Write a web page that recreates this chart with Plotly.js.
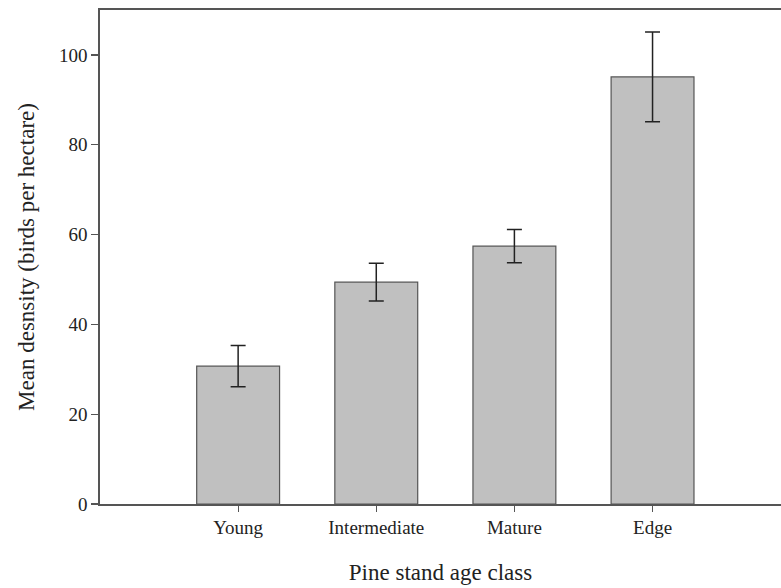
<!DOCTYPE html>
<html>
<head>
<meta charset="utf-8">
<script src="https://cdn.plot.ly/plotly-3.0.1.min.js"></script>
<style>html,body{margin:0;padding:0;background:#fff;}#chart{width:781px;height:588px;}</style>
</head>
<body>
<div id="chart"></div>
<script>
var categories = ["Young", "Intermediate", "Mature", "Edge"];
var meanDensity = [30.7, 49.4, 57.4, 95.1];
var stdError = [4.6, 4.2, 3.7, 10.0];
var yTickValues = [0, 20, 40, 60, 80, 100];

var trace = {
  type: "bar",
  x: categories,
  y: meanDensity,
  width: 0.6,
  marker: {color: "#c0c0c0", line: {color: "#555555", width: 1.2}},
  error_y: {type: "data", array: stdError, visible: true, color: "#222222", thickness: 1.5, width: 7.5},
  hoverinfo: "none"
};

var layout = {
  width: 781, height: 588,
  margin: {l: 100, r: 0, t: 10, b: 84},
  paper_bgcolor: "#ffffff", plot_bgcolor: "#ffffff",
  showlegend: false,
  font: {family: "Liberation Serif, Times New Roman, serif", color: "#222222", size: 19},
  xaxis: {
    type: "category",
    categoryarray: categories,
    range: [-1, 3.93],
    showline: true, linecolor: "#555555", linewidth: 1.6, mirror: true,
    ticks: "outside", ticklen: 6, tickwidth: 1.2, tickcolor: "#555555",
    showgrid: false, zeroline: false,
    tickfont: {size: 19},
    title: {text: "Pine stand age class", font: {size: 23}, standoff: 26},
    automargin: false
  },
  yaxis: {
    range: [0, 110],
    tickvals: yTickValues,
    showline: true, linecolor: "#555555", linewidth: 1.6, mirror: false,
    ticks: "outside", ticklen: 7, tickwidth: 1.2, tickcolor: "#555555",
    showgrid: false, zeroline: false,
    tickfont: {size: 19},
    title: {text: "Mean desnsity (birds per hectare)", font: {size: 23}, standoff: 18},
    automargin: false
  },
  bargap: 0.4
};

Plotly.newPlot("chart", [trace], layout, {displayModeBar: false, staticPlot: true});
</script>
</body>
</html>
